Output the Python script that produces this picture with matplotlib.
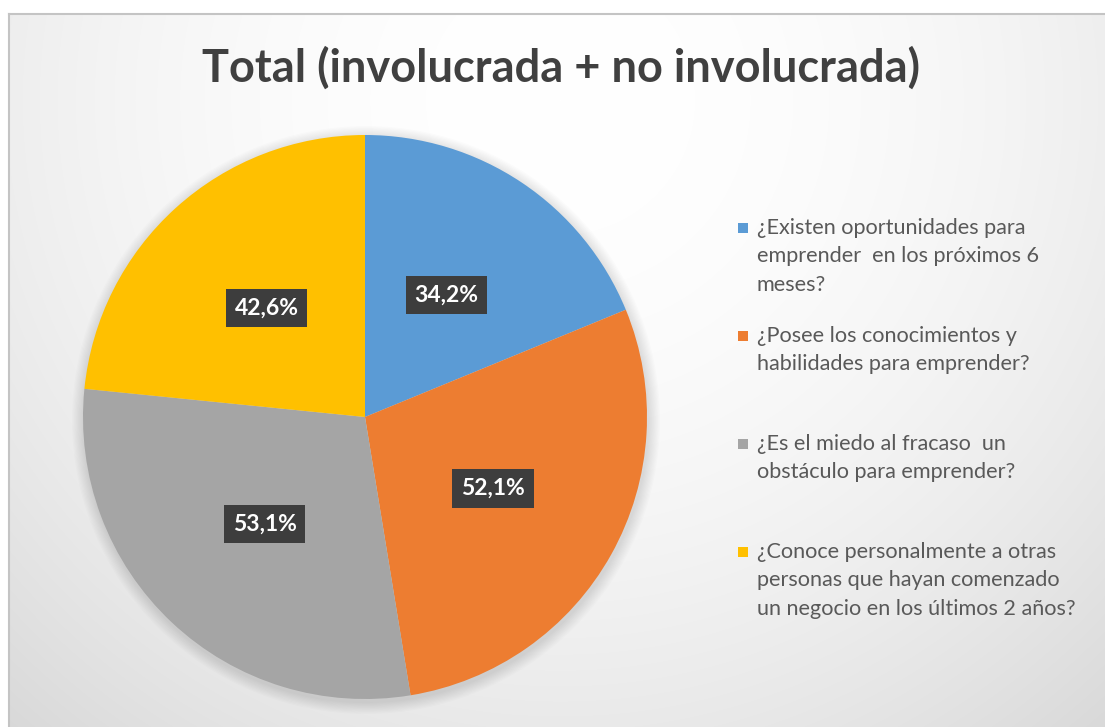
import numpy as np
import matplotlib
matplotlib.use("Agg")
import matplotlib.pyplot as plt
from matplotlib.patches import Rectangle

title = "Total (involucrada + no involucrada)"
categories = [
    ["¿Existen oportunidades para", "emprender  en los próximos 6", "meses?"],
    ["¿Posee los conocimientos y", "habilidades para emprender?"],
    ["¿Es el miedo al fracaso  un", "obstáculo para emprender?"],
    ["¿Conoce personalmente a otras", "personas que hayan comenzado", "un negocio en los últimos 2 años?"],
]
values = [34.2, 52.1, 53.1, 42.6]
labels = ["34,2%", "52,1%", "53,1%", "42,6%"]
colors = ["#5B9BD5", "#ED7D31", "#A5A5A5", "#FFC000"]

W, H = 1105, 727
fig = plt.figure(figsize=(W / 100, H / 100), dpi=100)
fig.patch.set_facecolor("white")

# background panel with radial gradient
bg = fig.add_axes([0, 0, 1, 1])
bg.set_xlim(0, W)
bg.set_ylim(H, 0)
bg.axis("off")
yy, xx = np.mgrid[0:H, 0:W]
d = np.sqrt((xx - 560) ** 2 + ((yy - 100) * 1.0) ** 2) / 850.0
g = 255 - 40 * np.clip(d, 0, 1.2) ** 2
img = np.dstack([g, g, g]) / 255.0
img[:13, :, :] = 1.0
img[:, :9, :] = 1.0
bg.imshow(img, extent=(0, W, H, 0), interpolation="bilinear", zorder=0)
bg.plot([9, W], [13.5, 13.5], color="#c4c4c4", lw=1.5, zorder=1)
bg.plot([9, 9], [13.5, H], color="#c4c4c4", lw=1.5, zorder=1)

# soft shadow around the pie
cx, cy, r = 365, 417, 282
for k in range(10):
    bg.add_patch(plt.Circle((cx + 1, cy + 3), r + 12 - k * 1.2, color="black",
                            alpha=0.012, lw=0, zorder=2))

# pie
ax = fig.add_axes([(cx - r) / W, (H - cy - r) / H, 2 * r / W, 2 * r / H])
wedges, _ = ax.pie(values, colors=colors, startangle=90, counterclock=False,
                   radius=1.0, wedgeprops=dict(linewidth=0))
ax.set_xlim(-1, 1)
ax.set_ylim(-1, 1)
ax.set_aspect("equal")

total = sum(values)
start = 90.0
for v, lab in zip(values, labels):
    ang = np.deg2rad(start - 360 * v / total / 2)
    start -= 360 * v / total
    x, y = 0.52 * np.cos(ang), 0.52 * np.sin(ang)
    ax.text(x, y, lab, ha="center", va="center", color="white",
            fontsize=16.5, fontweight="bold", family="Lato",
            bbox=dict(boxstyle="square,pad=0.38", fc="#3d3d3d", ec="none"))

fig.text(0.508, 1 - 68 / H, title, ha="center", va="center", fontsize=32.5,
         fontweight="bold", family="Lato", color="#404040")

# legend
for i, (lines, c) in enumerate(zip(categories, colors)):
    y0 = 228 + i * 108
    bg.add_patch(Rectangle((738, y0 - 5), 10, 10, color=c, lw=0, zorder=3))
    for j, line in enumerate(lines):
        bg.text(757, y0 + j * 28.3, line, ha="left", va="center", fontsize=15.6,
                family="Lato", color="#595959", zorder=3)

fig.savefig("out.png", dpi=100)
